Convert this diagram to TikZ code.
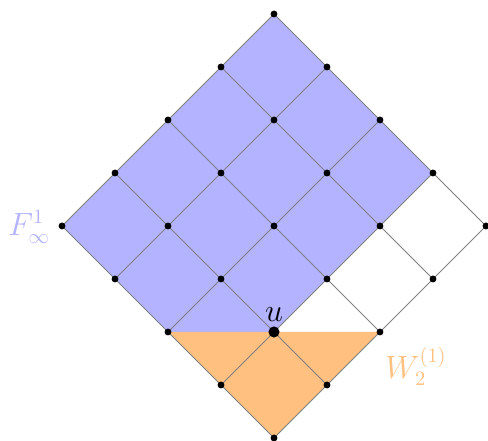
\documentclass[tikz,border=0pt]{standalone}
\usepackage{amsmath,amssymb}
\usepackage{tikz}
\usetikzlibrary{positioning,calc}
\definecolor{fregion}{RGB}{179,179,255}
\definecolor{wregion}{RGB}{255,192,128}
\definecolor{gridgray}{RGB}{128,128,128}
\tikzset{
  vertex/.style={circle,fill=black,inner sep=0pt,minimum size=0.13cm},
  bigvertex/.style={circle,fill=black,inner sep=0pt,minimum size=0.21cm},
  gridline/.style={draw=gridgray,line width=0.55pt},
  flabel/.style={text=fregion,font=\fontsize{16}{19}\selectfont},
  wlabel/.style={text=wregion,font=\fontsize{16}{19}\selectfont}
}
\begin{document}
\begin{tikzpicture}[x=1cm,y=1cm]
  \useasboundingbox (-5.170,-0.057) rectangle (4.038,8.264);
  % lattice points
  \foreach \i in {0,...,4}
    \foreach \j in {0,...,4}
      \coordinate (p\i\j) at (\j-\i,\i+\j);

  % regions
  \fill[fregion] (p40) -- (p44) -- (p14) -- (p11) -- (p20) -- cycle;
  \fill[wregion] (p20) -- (p02) -- (p00) -- cycle;

  % grid
  \foreach \k in {0,...,4} {
    \draw[gridline] (p\k0) -- (p\k4);
    \draw[gridline] (p0\k) -- (p4\k);
  }

  % vertices
  \foreach \i in {0,...,4}
    \foreach \j in {0,...,4}
      \node[vertex] (v\i\j) at (p\i\j) {};
  \node[bigvertex] (u) at (p11) {};
  \node[above=-1pt of u,font=\fontsize{16}{19}\selectfont] (ulabel) {$u$};

  % labels
  \node[flabel] (F) at (-4.62,3.98) {$F^1_\infty$};
  \node[wlabel] (W) at (2.68,1.36) {$W^{(1)}_2$};
\end{tikzpicture}
\end{document}
